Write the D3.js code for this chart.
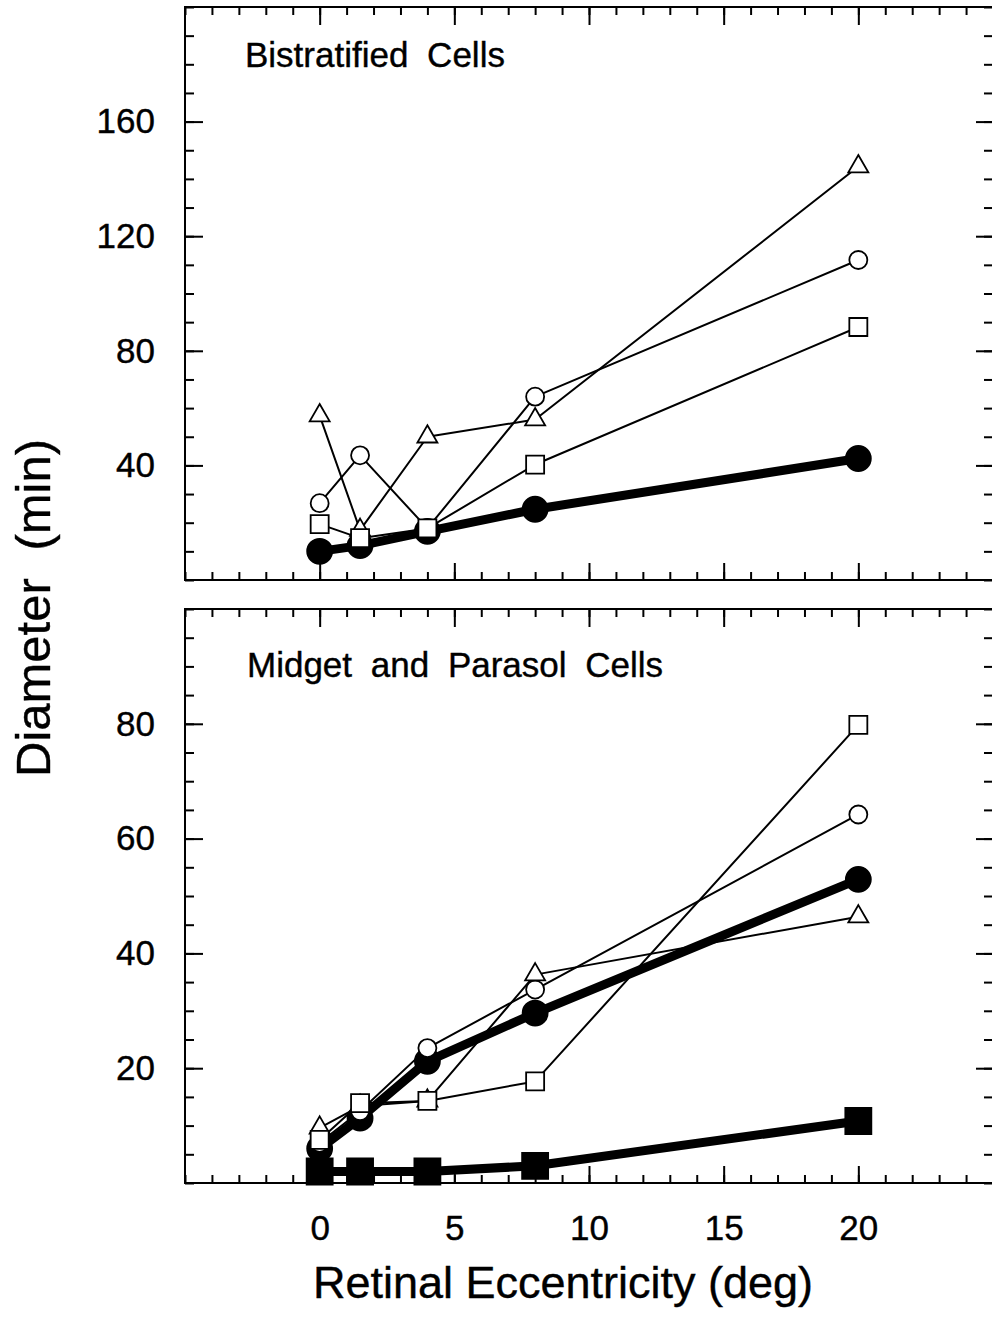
<!DOCTYPE html>
<html>
<head>
<meta charset="utf-8">
<script src="https://cdn.jsdelivr.net/npm/d3@7"></script>
<style>
  body { margin: 0; background: #fff; }
  text { font-family: "Liberation Sans", Arial, Helvetica, sans-serif; fill: #000; }
</style>
</head>
<body>
<script>
// eccentricity (deg) shared by every series
const eccentricity = [0, 1.5, 4, 8, 20];

// Bistratified cells
const bsFilledCircle = [10, 12, 17, 24.7, 42.4];
const bsOpenCircle = [26.8, 43.5, 18, 64, 111.7];
const bsOpenTriangle = [57.4, 17.4, 50, 56, 144.3];
const bsOpenSquare = [19.5, 14.6, 18, 40.3, 88.3];

// Midget and parasol cells
const mpFilledCircle = [6, 11.3, 21.2, 29.6, 52.9];
const mpFilledSquare = [2, 2, 2, 3, 10.8];
const mpOpenCircle = [7, 12.5, 23.5, 33.7, 64.2];
const mpOpenTriangle = [9.6, 13.4, 14.3, 36.3, 46.4];
const mpOpenSquare = [7.5, 13.9, 14.3, 17.7, 79.8];

const xTickLabels = [0, 5, 10, 15, 20];

const W = 992, H = 1317;
const svg = d3.select("body").append("svg").attr("width", W).attr("height", H);

const x = d3.scaleLinear().domain([-5, 25]).range([185, 993]);

const panels = [
  {
    title: "Bistratified Cells", titleX: 245, titleY: 67,
    top: 7, bottom: 580, ymax: 200, minor: 10, major: [40, 80, 120, 160],
    series: [
      { values: bsFilledCircle, shape: "circle", filled: true },
      { values: bsOpenCircle, shape: "circle" },
      { values: bsOpenTriangle, shape: "triangle" },
      { values: bsOpenSquare, shape: "square" }
    ],
    xLabels: false
  },
  {
    title: "Midget and Parasol Cells", titleX: 247, titleY: 677,
    top: 609, bottom: 1183, ymax: 100, minor: 5, major: [20, 40, 60, 80],
    series: [
      { values: mpFilledCircle, shape: "circle", filled: true },
      { values: mpFilledSquare, shape: "square", filled: true },
      { values: mpOpenCircle, shape: "circle" },
      { values: mpOpenTriangle, shape: "triangle" },
      { values: mpOpenSquare, shape: "square" }
    ],
    xLabels: true
  }
];

const xMinor = d3.range(-5, 26, 1);

panels.forEach(p => {
  const y = d3.scaleLinear().domain([0, p.ymax]).range([p.bottom, p.top]);
  const g = svg.append("g");
  const yMinor = d3.range(0, p.ymax + 0.1, p.minor);

  // ticks, all pointing inward
  const axes = [
    [d3.axisLeft(y).tickValues(yMinor).tickSizeInner(-9), `translate(${x(-5)},0)`],
    [d3.axisLeft(y).tickValues(p.major).tickSizeInner(-18).tickPadding(30), `translate(${x(-5)},0)`, true],
    [d3.axisRight(y).tickValues(yMinor).tickSizeInner(-9), `translate(${x(25)},0)`],
    [d3.axisRight(y).tickValues(p.major).tickSizeInner(-17), `translate(${x(25)},0)`],
    [d3.axisTop(x).tickValues(xMinor).tickSizeInner(-8), `translate(0,${p.top})`],
    [d3.axisTop(x).tickValues(xTickLabels).tickSizeInner(-18), `translate(0,${p.top})`],
    [d3.axisBottom(x).tickValues(xMinor).tickSizeInner(-8), `translate(0,${p.bottom})`],
    [d3.axisBottom(x).tickValues(xTickLabels).tickSizeInner(-17).tickPadding(32), `translate(0,${p.bottom})`, p.xLabels]
  ];
  axes.forEach(([ax, tr, labels]) => {
    ax.tickSizeOuter(0);
    if (!labels) ax.tickFormat("");
    const a = g.append("g").attr("transform", tr).call(ax);
    a.select(".domain").remove();
    a.selectAll("line").attr("stroke", "#000").attr("stroke-width", 2);
    a.selectAll("text").attr("font-size", 35).attr("fill", "#000")
      .attr("font-family", '"Liberation Sans", Arial, Helvetica, sans-serif')
      .attr("stroke", "#000").attr("stroke-width", 0.4);
  });

  // frame
  g.append("rect")
    .attr("x", x(-5)).attr("y", p.top)
    .attr("width", x(25) - x(-5)).attr("height", p.bottom - p.top)
    .attr("fill", "none").attr("stroke", "#000").attr("stroke-width", 2);

  g.append("text")
    .attr("x", p.titleX).attr("y", p.titleY)
    .attr("font-size", 35).style("word-spacing", "9px")
    .attr("stroke", "#000").attr("stroke-width", 0.4)
    .text(p.title);

  const line = d3.line().x(d => x(d[0])).y(d => y(d[1]));

  p.series.forEach(s => {
    const pts = eccentricity.map((e, i) => [e, s.values[i]]);
    g.append("path")
      .attr("d", line(pts))
      .attr("fill", "none")
      .attr("stroke", "#000")
      .attr("stroke-width", s.filled ? 9 : 2)
      .attr("stroke-linejoin", "round");

    const m = g.append("g").selectAll("path").data(pts).enter().append("path")
      .attr("transform", d => `translate(${x(d[0])},${y(d[1])})`)
      .attr("fill", s.filled ? "#000" : "#fff")
      .attr("stroke", "#000")
      .attr("stroke-width", 1.8);
    if (s.shape === "circle") {
      const r = s.filled ? 12.5 : 9;
      m.attr("d", d3.symbol(d3.symbolCircle, Math.PI * r * r)());
    } else if (s.shape === "square") {
      const a = s.filled ? 26 : 18;
      m.attr("d", d3.symbol(d3.symbolSquare, a * a)());
    } else {
      const side = 20;
      m.attr("d", d3.symbol(d3.symbolTriangle, side * side * Math.sqrt(3) / 4)());
    }
  });
});

// axis titles
svg.append("text")
  .attr("x", 563).attr("y", 1298)
  .attr("text-anchor", "middle")
  .attr("font-size", 45)
  .attr("stroke", "#000").attr("stroke-width", 0.4)
  .text("Retinal Eccentricity (deg)");

svg.append("text")
  .attr("transform", "translate(50,608) rotate(-90)")
  .attr("text-anchor", "middle")
  .attr("font-size", 49)
  .style("word-spacing", "14px")
  .attr("stroke", "#000").attr("stroke-width", 0.4)
  .text("Diameter (min)");
</script>
</body>
</html>
